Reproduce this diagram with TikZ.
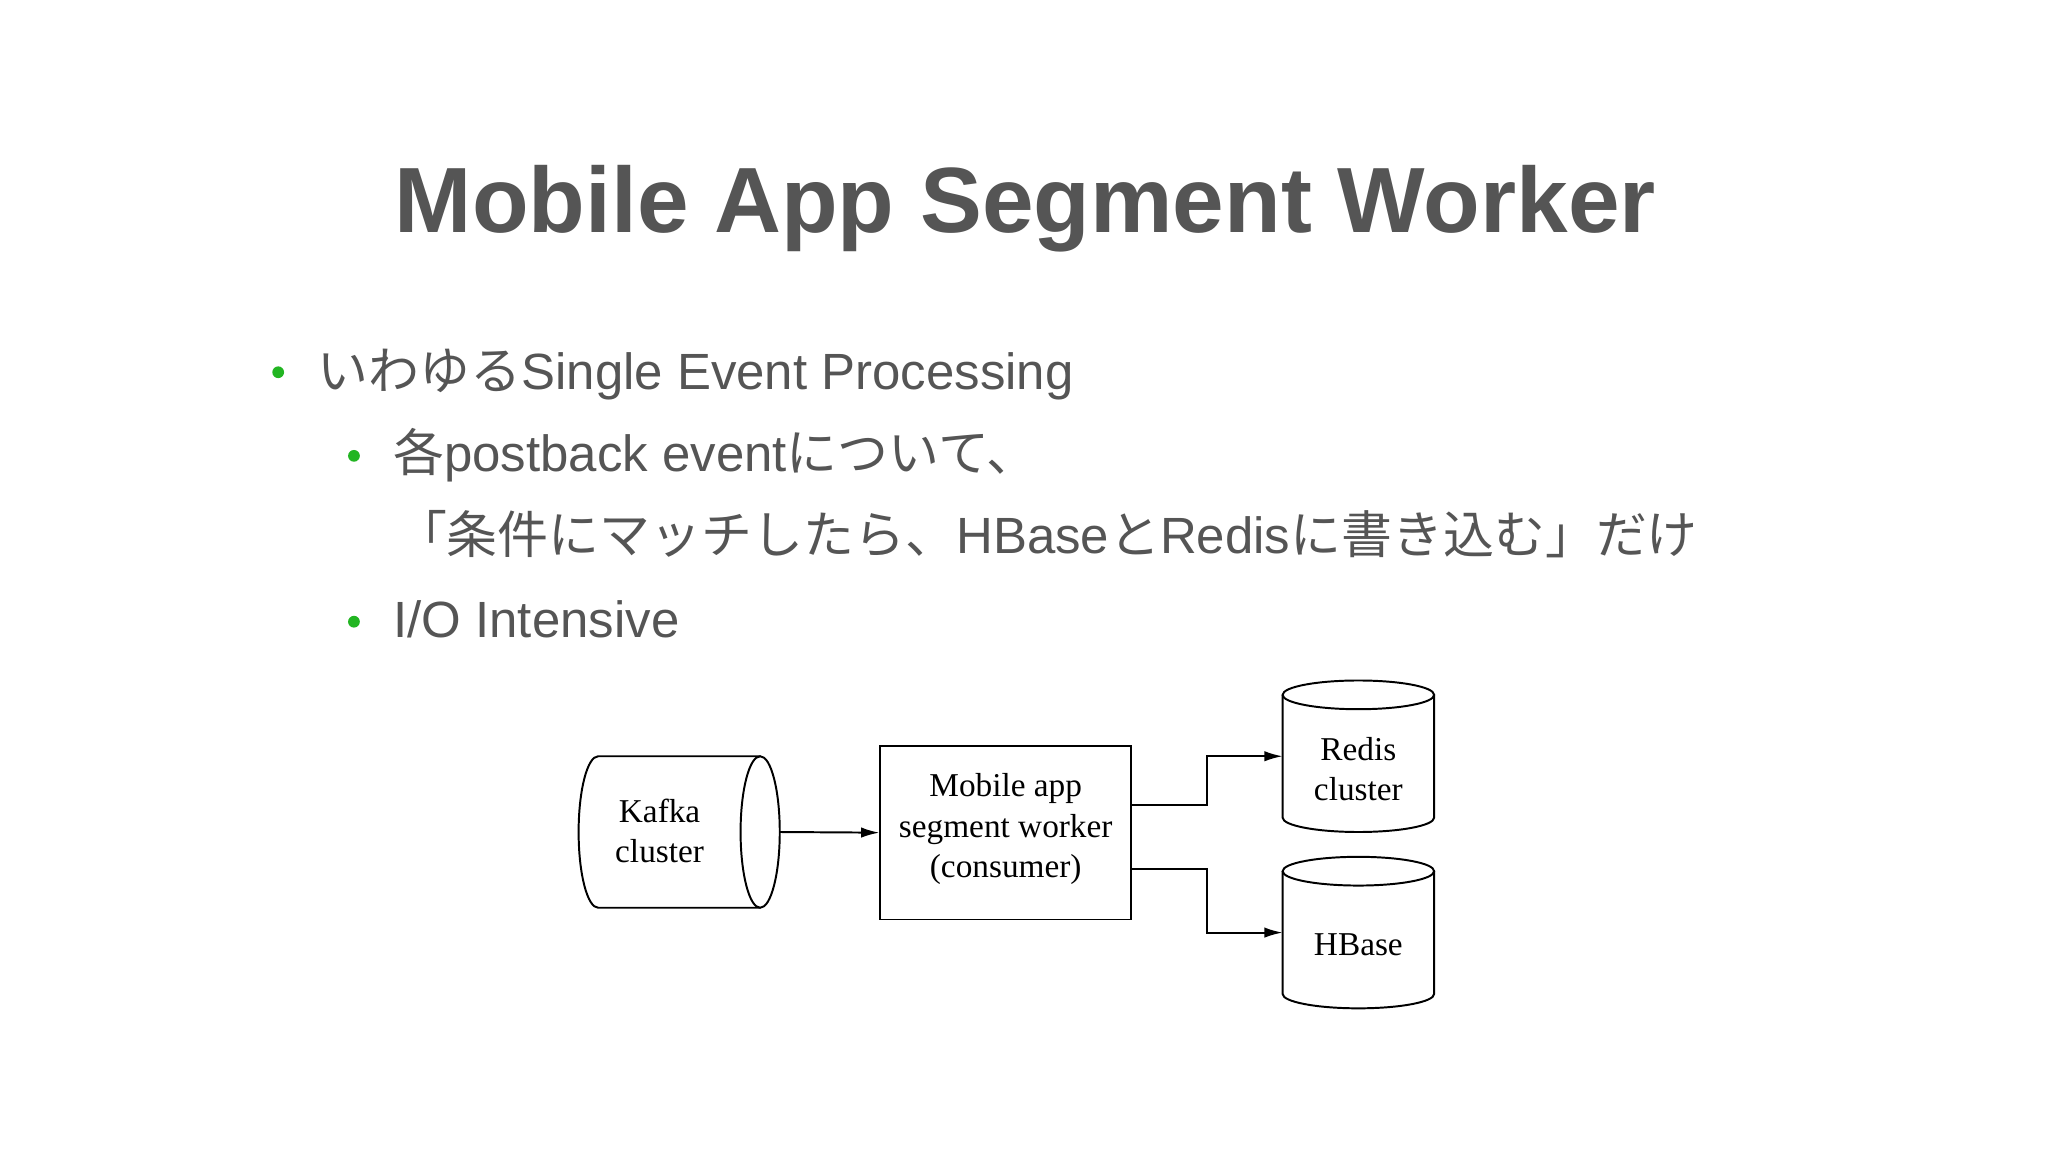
\documentclass[tikz,border=0pt]{standalone}
\usepackage{fontspec}
\setmainfont{Liberation Sans}
\newfontfamily\jp{Noto Sans CJK JP}
\newfontfamily\serifd{Liberation Serif}
\usetikzlibrary{arrows.meta}
\definecolor{tgray}{HTML}{555555}
\definecolor{bgreen}{HTML}{22B522}
\tikzset{
  btxt/.style={anchor=base west,text=tgray,font=\fontsize{39}{44}\selectfont,inner sep=0},
  bdot/.style={fill=bgreen,circle,inner sep=0,minimum size=9pt},
  dtxt/.style={font=\serifd\fontsize{25.5}{31}\selectfont,align=center,inner sep=0},
  shp/.style={draw=black,line width=1.5pt},
  conn/.style={draw=black,line width=1.5pt,-{Latex[length=14pt,width=8pt]}}
}
\begin{document}
\begin{tikzpicture}[x=1pt,y=-1pt]
\useasboundingbox[fill=white] (0,0) rectangle (1568,882);
\node[anchor=base,text=tgray,font=\bfseries\fontsize{71}{80}\selectfont,inner sep=0] (title) at (785,178) {Mobile App Segment Worker};
\node[bdot] (d1) at (213,285) {};
\node[btxt] (b1) at (243,298) {{\jp いわゆる}Single Event Processing};
\node[bdot] (d2) at (271,349) {};
\node[btxt] (b2) at (301,361) {{\jp 各}postback event{\jp について、}};
\node[btxt] (b3) at (303,424) {{\jp 「条件にマッチしたら、}HBase{\jp と}Redis{\jp に書き込む」だけ}};
\node[bdot] (d3) at (271,476) {};
\node[btxt] (b4) at (301,488) {I/O Intensive};
% Kafka cylinder (horizontal)
\path[shp] (582,579) -- (458,579) arc[start angle=270,end angle=90,x radius=15,y radius=58] -- (582,695);
\path[shp] (582,637) ellipse[x radius=15,y radius=58];
\node[dtxt] (kafka) at (505,636) {Kafka\\cluster};
\coordinate (kout) at (597,637);
% worker box
\node[shp,minimum width=192pt,minimum height=133pt,inner sep=0] (work) at (770,637.5) {};
\node[dtxt] (wt) at (770,635) {Mobile app\\segment worker\\(consumer)};
% Redis
\path[shp] (982,532) -- (982,626) arc[start angle=180,end angle=0,x radius=58,y radius=11] -- (1098,532);
\path[shp] (1040,532) ellipse[x radius=58,y radius=11];
\node[dtxt] (redis) at (1040,589) {Redis\\cluster};
\coordinate (rin) at (982,579);
% HBase
\path[shp] (982,667) -- (982,761) arc[start angle=180,end angle=0,x radius=58,y radius=11] -- (1098,667);
\path[shp] (1040,667) ellipse[x radius=58,y radius=11];
\node[dtxt] (hbase) at (1040,723) {HBase};
\coordinate (hin) at (982,714);
% connectors
\draw[conn] (kout) -- (work.west);
\draw[conn] (work.east |- 0,616) -| (924,579) -- (rin);
\draw[conn] (work.east |- 0,665) -| (924,714) -- (hin);
\end{tikzpicture}
\end{document}
